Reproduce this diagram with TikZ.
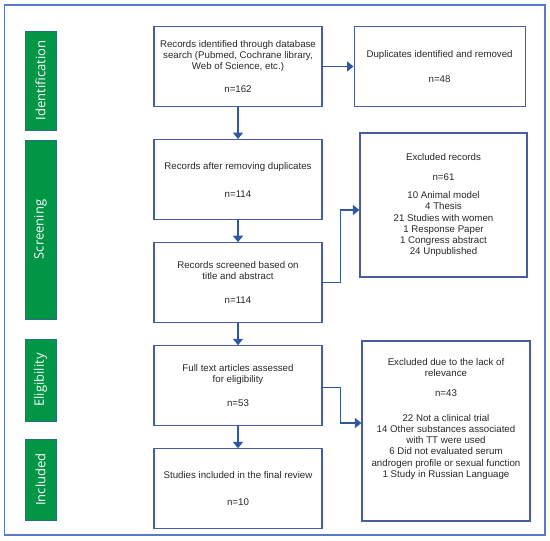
\documentclass[tikz,border=0pt]{standalone}
\usepackage{fontspec}
\setmainfont{Liberation Sans}
\newfontfamily\phasefont{Open Sans}
\usepackage{xcolor}
\usepackage{tikz}
\usetikzlibrary{arrows.meta, positioning, calc}
\definecolor{boxblue}{RGB}{72, 92, 160}
\definecolor{arrowblue}{RGB}{46, 89, 160}
\definecolor{frameblue}{RGB}{90, 120, 200}
\definecolor{phasegreen}{RGB}{0, 150, 70}
\definecolor{phaseedge}{RGB}{40, 110, 140}
\definecolor{textgray}{RGB}{40, 40, 40}

\begin{document}
\begin{tikzpicture}[
    x=1pt, y=1pt,
    node distance=22pt,
    stage/.style={draw=boxblue, line width=1.1pt, minimum width=168pt,
                  minimum height=80pt, align=center, text=textgray,
                  font=\fontsize{9.7}{11.2}\selectfont, inner sep=2pt},
    phase/.style={fill=phasegreen, draw=phaseedge, line width=0.5pt,
                  minimum height=31pt, rotate=90, text=white,
                  font=\phasefont\fontsize{13}{15}\selectfont},
    arr/.style={draw=arrowblue, line width=1.4pt,
                -{Triangle[width=10pt, length=6.5pt]}}
]
    \useasboundingbox (0,0) rectangle (550,-541);
    \draw[frameblue, line width=1.4pt] (4.5,-5) rectangle (545,-535);

    % phases
    \node[phase, minimum width=99pt] (pid) at (40.5,-80.5) {Identification};
    \node[phase, minimum width=179pt] (pscr) at (40.5,-229.5) {Screening};
    \node[phase, minimum width=82pt] (pel) at (40.5,-380) {Eligibility};
    \node[phase, minimum width=81pt] (pinc) at (40.5,-479.5) {Included};

    % main column
    \node[stage] (ident) at (238,-66.5)
        {Records identified through database\\search (Pubmed, Cochrane library,\\Web of Science, etc.)\\[12pt]n=162};
    \node[stage, below=32pt of ident] (dedup)
        {Records after removing duplicates\\[17pt]n=114};
    \node[stage, below=of dedup] (screen)
        {Records screened based on\\title and abstract\\[13pt]n=114};
    \node[stage, below=of screen] (full)
        {Full text articles assessed\\for eligibility\\[13pt]n=53};
    \node[stage, below=of full] (incl)
        {Studies included in the final review\\[16pt]n=10};

    % exclusions
    \node[stage, minimum width=171pt, right=31pt of ident] (dup)
        {Duplicates identified and removed\\[13pt]n=48};
    \node[stage, minimum width=167pt, minimum height=144pt] (exrec) at (443.5,-205)
        {Excluded records\\[9pt]n=61\\[7pt]10 Animal model\\4 Thesis\\21 Studies with women\\1 Response Paper\\1 Congress abstract\\24 Unpublished};
    \node[stage, minimum width=168pt, minimum height=180pt] (exrel) at (446,-431)
        {Excluded due to the lack of\\relevance\\[8pt]n=43\\[14pt]22 Not a clinical trial\\14 Other substances associated\\with TT were used\\6 Did not evaluated serum\\androgen profile or sexual function\\1 Study in Russian Language\\[15pt]\mbox{}};

    \draw[arr] (ident) -- (dedup);
    \draw[arr] (dedup) -- (screen);
    \draw[arr] (screen) -- (full);
    \draw[arr] (full) -- (incl);
    \draw[arr] (ident) -- (dup);
    \draw[arr] (screen.east) -- ++(18,0) |- ([yshift=-5pt]exrec.west);
    \draw[arr] ([yshift=-1.5pt]full.east) -- ++(18,0) |- ([yshift=8pt]exrel.west);
\end{tikzpicture}
\end{document}
